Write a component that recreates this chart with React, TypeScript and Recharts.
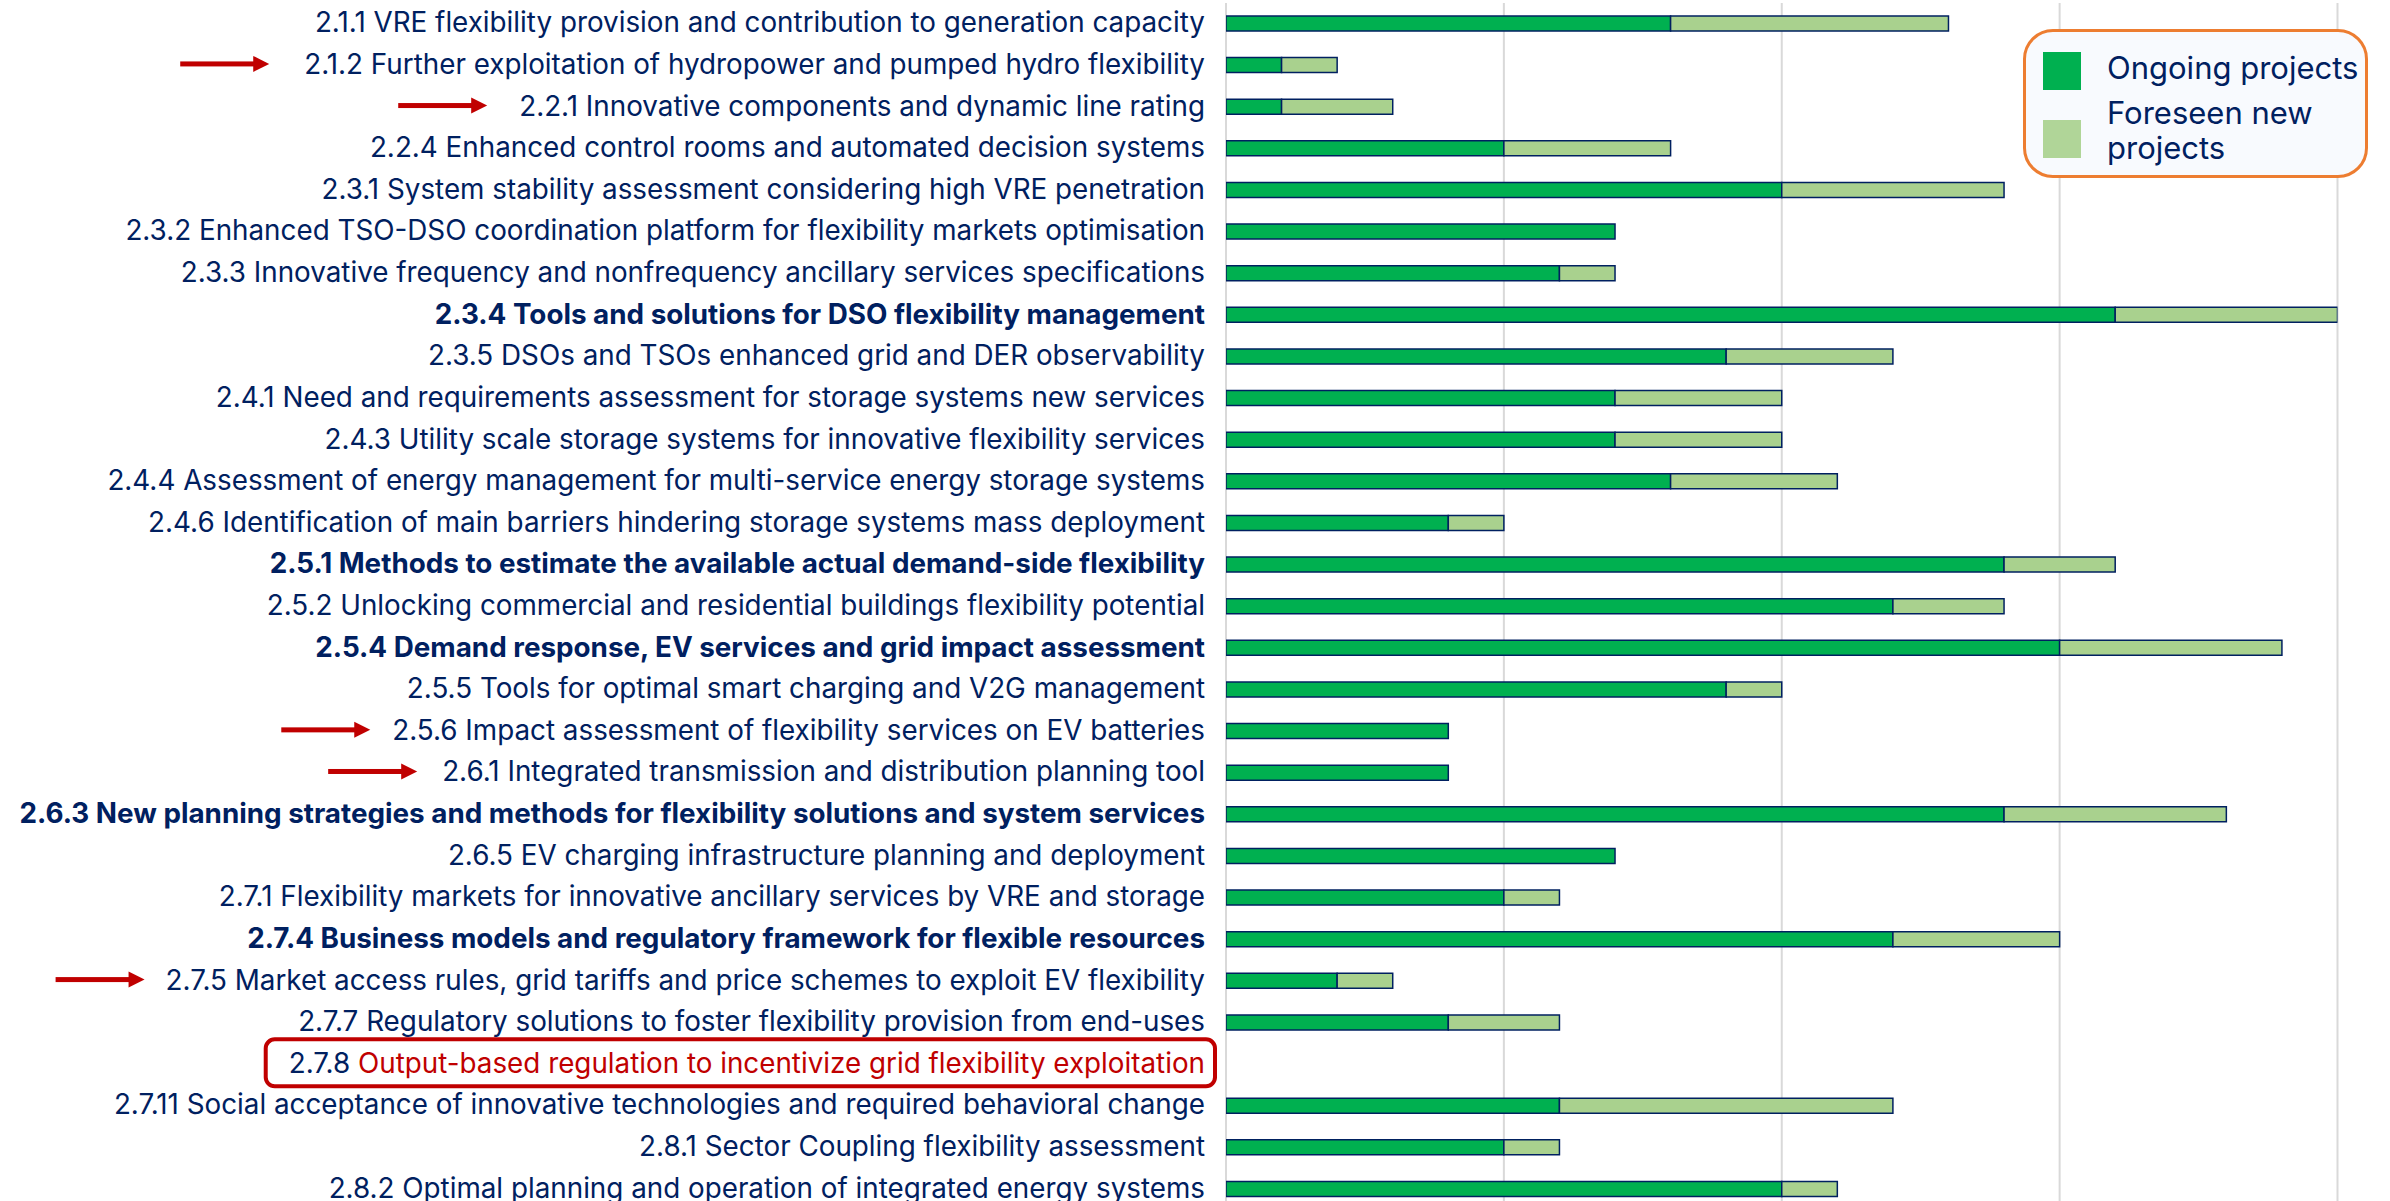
import React from 'react';
import { BarChart, Bar, XAxis, YAxis, CartesianGrid } from 'recharts';

// ---------- data ----------
const codes = ['2.1.1','2.1.2','2.2.1','2.2.4','2.3.1','2.3.2','2.3.3','2.3.4','2.3.5','2.4.1','2.4.3','2.4.4','2.4.6','2.5.1','2.5.2','2.5.4','2.5.5','2.5.6','2.6.1','2.6.3','2.6.5','2.7.1','2.7.4','2.7.5','2.7.7','2.7.8','2.7.11','2.8.1','2.8.2'];

const titles = [
  'VRE flexibility provision and contribution to generation capacity',
  'Further exploitation of hydropower and pumped hydro flexibility',
  'Innovative components and dynamic line rating',
  'Enhanced control rooms and automated decision systems',
  'System stability assessment considering high VRE penetration',
  'Enhanced TSO-DSO coordination platform for flexibility markets optimisation',
  'Innovative frequency and nonfrequency ancillary services specifications',
  'Tools and solutions for DSO flexibility management',
  'DSOs and TSOs enhanced grid and DER observability',
  'Need and requirements assessment for storage systems new services',
  'Utility scale storage systems for innovative flexibility services',
  'Assessment of energy management for multi-service energy storage systems',
  'Identification of main barriers hindering storage systems mass deployment',
  'Methods to estimate the available actual demand-side flexibility',
  'Unlocking commercial and residential buildings flexibility potential',
  'Demand response, EV services and grid impact assessment',
  'Tools for optimal smart charging and V2G management',
  'Impact assessment of flexibility services on EV batteries',
  'Integrated transmission and distribution planning tool',
  'New planning strategies and methods for flexibility solutions and system services',
  'EV charging infrastructure planning and deployment',
  'Flexibility markets for innovative ancillary services by VRE and storage',
  'Business models and regulatory framework for flexible resources',
  'Market access rules, grid tariffs and price schemes to exploit EV flexibility',
  'Regulatory solutions to foster flexibility provision from end-uses',
  'Output-based regulation to incentivize grid flexibility exploitation',
  'Social acceptance of innovative technologies and required behavioral change',
  'Sector Coupling flexibility assessment',
  'Optimal planning and operation of integrated energy systems',
];

const ongoing = [8,1,1,5,10,7,6,16,9,7,7,8,4,14,12,15,9,4,4,14,7,5,12,2,4,0,6,5,10];
const foreseen = [5,1,2,3,4,0,1,4,3,3,3,3,1,2,2,4,1,0,0,4,0,1,3,1,2,0,6,1,1];

const seriesNames = ['Ongoing projects', 'Foreseen new projects'];
const xTicks = [0, 5, 10, 15, 20];

const boldCodes = ['2.3.4','2.5.1','2.5.4','2.6.3','2.7.4'];
const highlightCode = '2.7.8';
const arrowCodes = ['2.1.2','2.2.1','2.5.6','2.6.1','2.7.5'];

// ---------- styles ----------
const FONT = "Inter, 'Open Sans', sans-serif";
const NAVY = '#002060';
const RED = '#C00000';
const GREEN = '#00B050';
const LIGHT = '#A9D18E';
const LABEL_SIZE = 27.8;
const TEXT_DY = -1.5;
const arrowGap: Record<string, number> = { '2.1.2': 35, '2.2.1': 32, '2.5.6': 22, '2.6.1': 25, '2.7.5': 21 };

const labels = codes.map((c, i) => `${c} ${titles[i]}`);
const data = labels.map((name, i) => ({ name, ongoing: ongoing[i], foreseen: foreseen[i] }));

let ctx: CanvasRenderingContext2D | null = null;
function measure(text: string, weight: number, size: number): number {
  if (!ctx) ctx = document.createElement('canvas').getContext('2d');
  if (!ctx) return text.length * size * 0.5;
  ctx.font = `${weight} ${size}px ${FONT}`;
  return ctx.measureText(text).width;
}

function Arrow({ tipX, y }: { tipX: number; y: number }) {
  const len = 89;
  const headL = 16;
  const headH = 8;
  return (
    <g>
      <rect x={tipX - len} y={y - 2.5} width={len - headL + 1} height={5} fill={RED} />
      <polygon points={`${tipX - headL},${y - headH} ${tipX},${y} ${tipX - headL},${y + headH}`} fill={RED} />
    </g>
  );
}

function LabelTick(props: any) {
  const { x, y, payload } = props;
  const i = labels.indexOf(payload.value);
  if (i < 0) return null;
  const code = codes[i];
  const title = titles[i];
  const bold = boldCodes.includes(code);
  const hl = code === highlightCode;
  const weight = bold ? 700 : 400;
  const full = `${code} ${title}`;
  const w = measure(full, weight, LABEL_SIZE);
  const ty = y + TEXT_DY;
  const startX = x - w;
  return (
    <g>
      {hl && (
        <rect x={startX - 23} y={ty - 23.5} width={w + 33} height={47} rx={9} ry={9}
          fill="none" stroke={RED} strokeWidth={4} />
      )}
      <text x={x} y={ty} dy="0.36em" textAnchor="end" fontFamily={FONT} fontSize={LABEL_SIZE}
        fontWeight={weight} fill={NAVY} style={{ whiteSpace: 'pre' }}>
        {hl ? (
          <>
            <tspan>{code + ' '}</tspan>
            <tspan fill={RED}>{title}</tspan>
          </>
        ) : full}
      </text>
      {arrowCodes.includes(code) && <Arrow tipX={startX - arrowGap[code]} y={ty} />}
    </g>
  );
}

function Legend() {
  const swatch = [GREEN, '#B0D598'];
  return (
    <div style={{
      position: 'absolute', left: 2023, top: 29, width: 345, height: 149, boxSizing: 'border-box',
      border: '3px solid #ED7D31', borderRadius: 30, background: '#F8FAFE', fontFamily: FONT,
      color: NAVY, fontSize: 31, lineHeight: '35px',
    }}>
      <div style={{ position: 'absolute', left: 17, top: 20, width: 38, height: 38, background: swatch[0] }} />
      <div style={{ position: 'absolute', left: 81, top: 18, whiteSpace: 'nowrap' }}>{seriesNames[0]}</div>
      <div style={{ position: 'absolute', left: 17, top: 88, width: 38, height: 38, background: swatch[1] }} />
      <div style={{ position: 'absolute', left: 81, top: 63, width: 245 }}>{seriesNames[1]}</div>
    </div>
  );
}

export default function App() {
  return (
    <div style={{ position: 'fixed', left: 0, top: 0, width: 2390, height: 1201, overflow: 'hidden', background: '#fff' }}>
      <div style={{ position: 'absolute', left: 0, top: 3 }}>
        <BarChart width={2390} height={1207} data={data} layout="vertical"
          margin={{ top: 0, right: 52.5, bottom: 0, left: 0 }} barSize={15}>
          <CartesianGrid horizontal={false} vertical stroke="#D9D9D9" strokeWidth={2} />
          <XAxis type="number" domain={[0, 20]} ticks={xTicks} hide allowDataOverflow />
          <YAxis type="category" dataKey="name" width={1226} interval={0} tickLine={false}
            axisLine={false} tickSize={0} tickMargin={21} tick={<LabelTick />} />
          <Bar dataKey="ongoing" name={seriesNames[0]} stackId="a" fill={GREEN} stroke={NAVY}
            strokeWidth={1.5} isAnimationActive={false} />
          <Bar dataKey="foreseen" name={seriesNames[1]} stackId="a" fill={LIGHT} stroke={NAVY}
            strokeWidth={1.5} isAnimationActive={false} />
        </BarChart>
      </div>
      <Legend />
    </div>
  );
}
